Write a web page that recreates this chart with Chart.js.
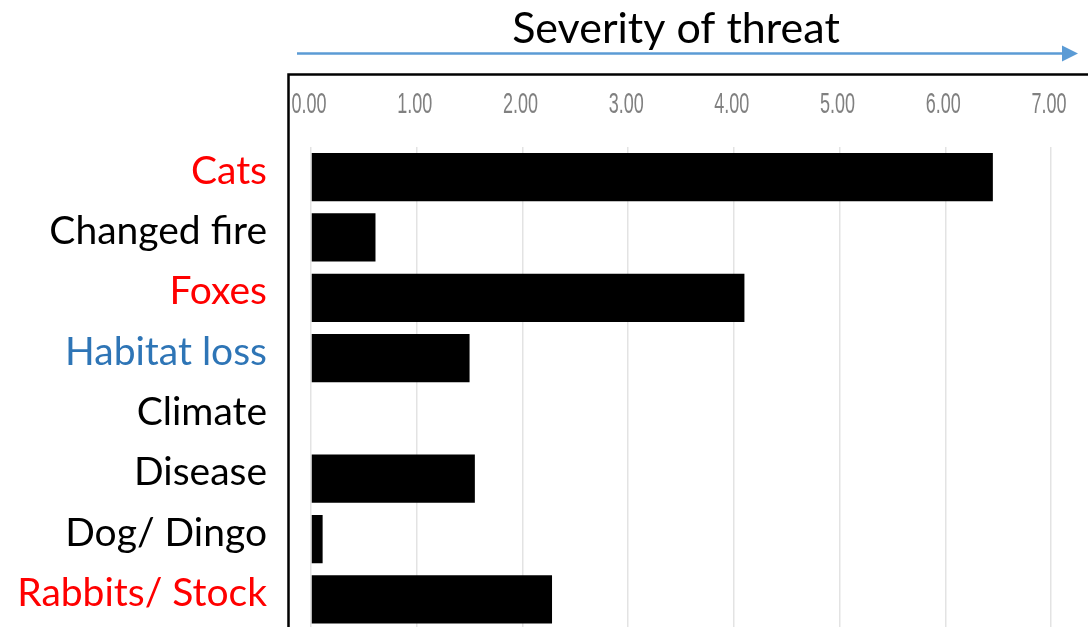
<!DOCTYPE html>
<html>
<head>
<meta charset="utf-8">
<script src="https://cdn.jsdelivr.net/npm/chart.js@4/dist/chart.umd.min.js"></script>
<style>
    html, body { margin: 0; padding: 0; background: #fff; overflow: hidden; }
    canvas { display: block; }
</style>
</head>
<body>
<canvas id="threatChart" width="1088" height="640"></canvas>
<script>
// Threat categories and severity scores
const categories = ['Cats', 'Changed fire', 'Foxes', 'Habitat loss', 'Climate', 'Disease', 'Dog/ Dingo', 'Rabbits/ Stock'];
const severity = [6.45, 0.61, 4.10, 1.50, 0, 1.55, 0.11, 2.28];
const labelColors = ['#FF0000', '#000000', '#FF0000', '#2E75B6', '#000000', '#000000', '#000000', '#FF0000'];
const axisMin = 0;
const axisMax = 7;
const axisStep = 1;
const titleText = 'Severity of threat';

// Title, arrow, frame and squeezed tick labels
const decorPlugin = {
    id: 'decor',
    afterDraw(chart) {
        const ctx = chart.ctx;
        const area = chart.chartArea;
        const xScale = chart.scales.x;

        ctx.save();
        // title
        ctx.fillStyle = '#000';
        ctx.font = '43px Lato, "Open Sans", sans-serif';
        ctx.textAlign = 'center';
        ctx.textBaseline = 'alphabetic';
        ctx.fillText(titleText, 676, 43);

        // arrow
        ctx.strokeStyle = '#5B9BD5';
        ctx.fillStyle = '#5B9BD5';
        ctx.lineWidth = 2.5;
        ctx.beginPath();
        ctx.moveTo(297, 53.5);
        ctx.lineTo(1064, 53.5);
        ctx.stroke();
        ctx.beginPath();
        ctx.moveTo(1078, 53.5);
        ctx.lineTo(1062, 45.5);
        ctx.lineTo(1062, 61.5);
        ctx.closePath();
        ctx.fill();

        // frame
        ctx.strokeStyle = '#000';
        ctx.lineWidth = 2.5;
        ctx.beginPath();
        ctx.moveTo(288.5, chart.height);
        ctx.lineTo(288.5, 74.5);
        ctx.lineTo(chart.width, 74.5);
        ctx.stroke();

        // tick labels, condensed like the original
        ctx.fillStyle = '#808080';
        ctx.font = '30px "Liberation Sans Narrow", "Liberation Sans", sans-serif';
        ctx.textAlign = 'center';
        ctx.textBaseline = 'alphabetic';
        const squeeze = 35 / ctx.measureText('0.00').width;
        xScale.ticks.forEach((t, i) => {
            const px = xScale.getPixelForTick(i);
            ctx.save();
            ctx.translate(px - 2, area.top - 34);
            ctx.scale(squeeze, 1);
            ctx.fillText(Number(t.value).toFixed(2), 0, 0);
            ctx.restore();
        });
        ctx.restore();
    }
};

function createThreatChart() {
    const ctx = document.getElementById('threatChart').getContext('2d');

    new Chart(ctx, {
        type: 'bar',
        data: {
            labels: categories,
            datasets: [{
                label: titleText,
                data: severity,
                backgroundColor: '#000000',
                borderWidth: 0,
                barPercentage: 0.8,
                categoryPercentage: 1
            }]
        },
        options: {
            indexAxis: 'y',
            responsive: false,
            animation: false,
            layout: {
                padding: { top: 75, right: 37, bottom: 10.5, left: 0 }
            },
            plugins: {
                legend: { display: false },
                title: { display: false },
                tooltip: { enabled: false }
            },
            scales: {
                x: {
                    position: 'top',
                    min: axisMin,
                    max: axisMax,
                    ticks: {
                        stepSize: axisStep,
                        display: false
                    },
                    grid: {
                        color: '#e3e3e3',
                        lineWidth: 1.5,
                        drawTicks: false
                    },
                    border: { display: false },
                    afterFit(scale) {
                        scale.height = 72;
                        scale.paddingLeft = 0;
                        scale.paddingRight = 0;
                    }
                },
                y: {
                    ticks: {
                        color: (c) => labelColors[c.index],
                        font: { family: 'Lato, "Open Sans", sans-serif', size: 39 },
                        padding: 36,
                        labelOffset: -6
                    },
                    grid: { display: false },
                    border: { display: false },
                    afterFit(scale) {
                        scale.width = 311;
                        scale.paddingTop = 0;
                        scale.paddingBottom = 0;
                    }
                }
            }
        },
        plugins: [decorPlugin]
    });
}

document.addEventListener('DOMContentLoaded', createThreatChart);
</script>
</body>
</html>
